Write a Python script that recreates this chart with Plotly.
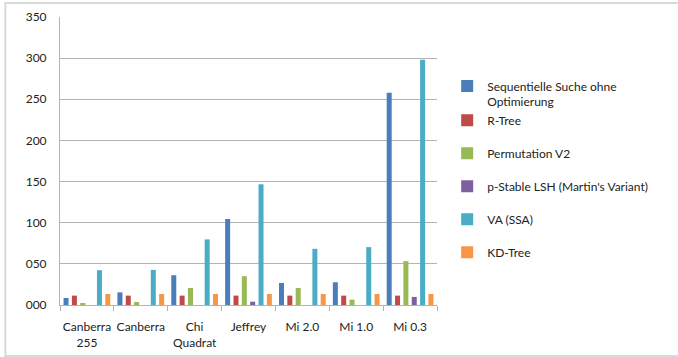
import plotly.graph_objects as go

categories = ["Canberra<br>255", "Canberra", "Chi<br>Quadrat", "Jeffrey", "Mi 2.0", "Mi 1.0", "Mi 0.3"]

series_names = [
    "Sequentielle Suche ohne<br>Optimierung",
    "R-Tree",
    "Permutation V2",
    "p-Stable LSH (Martin's Variant)",
    "VA (SSA)",
    "KD-Tree",
]

seq_values = [8.5, 15.4, 36.2, 104.5, 26.8, 27.6, 258.0]
rtree_values = [11.4, 11.4, 11.4, 11.4, 11.4, 11.4, 11.4]
perm_values = [2.4, 3.7, 20.7, 35.0, 20.7, 6.5, 53.3]
lsh_values = [0, 0, 0, 4.0, 0, 0, 9.8]
va_values = [42.3, 42.7, 79.7, 146.7, 68.3, 70.3, 298.0]
kd_values = [13.4, 13.4, 13.4, 13.4, 13.4, 13.4, 13.4]

series_values = [seq_values, rtree_values, perm_values, lsh_values, va_values, kd_values]
colors = ["#4A7EBB", "#BE4B48", "#98B954", "#7D60A0", "#4BACC6", "#F79646"]
legend_groups = ["a", "a", "b", "c", "d", "e"]

y_ticks = [0, 50, 100, 150, 200, 250, 300, 350]
y_tick_text = ["000", "050", "100", "150", "200", "250", "300", "350"]

fig = go.Figure()
for name, vals, col, grp in zip(series_names, series_values, colors, legend_groups):
    fig.add_trace(go.Bar(
        x=categories, y=vals, name=name, marker_color=col,
        marker_line_width=0, legendgroup=grp,
    ))

axis_gray = "#B3B3B3"
font_family = "Lato, 'Open Sans', sans-serif"

fig.update_layout(
    width=678, height=357,
    margin=dict(l=60, r=241, t=17, b=52),
    paper_bgcolor="white", plot_bgcolor="white",
    font=dict(family=font_family, size=12, color="#222222"),
    barmode="group", bargap=0.07, bargroupgap=0.4,
    showlegend=True,
    legend=dict(
        x=1.027, xanchor="left", y=0.81, yanchor="top",
        valign="top", tracegroupgap=14, traceorder="grouped",
        font=dict(size=12, color="#222222"),
        bgcolor="rgba(0,0,0,0)",
    ),
    xaxis=dict(
        type="category", showgrid=False, automargin=False,
        showline=True, linecolor=axis_gray, linewidth=1,
        ticks="outside", tickson="boundaries", ticklen=5, tickcolor=axis_gray,
        tickfont=dict(size=12), tickangle=0, ticklabelstandoff=11,
    ),
    yaxis=dict(
        range=[0, 350], tickvals=y_ticks, ticktext=y_tick_text,
        automargin=False,
        showgrid=True, gridcolor=axis_gray, gridwidth=1,
        showline=True, linecolor=axis_gray, linewidth=1,
        zeroline=False, ticks="", ticklabelstandoff=10,
        tickfont=dict(size=12),
    ),
    shapes=[dict(
        type="rect", xref="paper", yref="paper",
        x0=-0.145, x1=1.66, y0=-0.177, y1=1.0486,
        line=dict(color="#D9D9D9", width=2), fillcolor="rgba(0,0,0,0)",
        layer="below",
    )],
)

fig.write_html("out.html")
